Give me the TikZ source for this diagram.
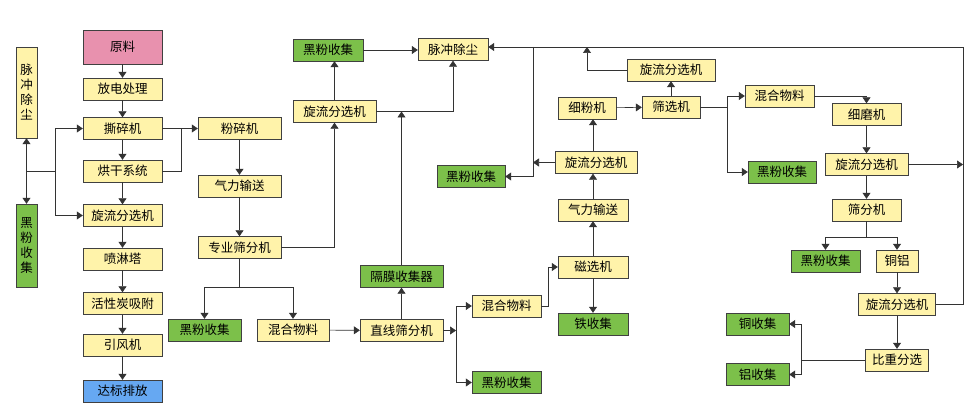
\documentclass[tikz,border=0pt]{standalone}
\usepackage{fontspec}
\setmainfont{Noto Sans CJK SC}
\usetikzlibrary{arrows.meta}
\definecolor{ybox}{HTML}{FFF3AA}
\definecolor{gbox}{HTML}{7CC04A}
\definecolor{pbox}{HTML}{E891AE}
\definecolor{bbox}{HTML}{66A8F2}

\begin{document}
\begin{tikzpicture}[x=1pt, y=-1pt, font=\fontsize{12.5}{15}\selectfont,
	every node/.style={draw=black!75, inner sep=1pt, minimum height=22},
	yel/.style={fill=ybox}, grn/.style={fill=gbox},
	>={Triangle[width=8pt,length=6pt]}, line/.style={draw=black!80, semithick}]
		\useasboundingbox[fill=white] (0,0) rectangle (976,409);

		% left column
		\node[fill=pbox, minimum width=79, minimum height=34] (yuanliao) at (122.5,47) {原料};
		\node[yel, minimum width=79] (fangdian) at (122.5,89) {放电处理};
		\node[yel, minimum width=79] (sisui) at (122.5,128.5) {撕碎机};
		\node[yel, minimum width=79] (honggan) at (122.5,171) {烘干系统};
		\node[yel, minimum width=79] (xuanliuA) at (122.5,215.5) {旋流分选机};
		\node[yel, minimum width=79] (penlin) at (122.5,259) {喷淋塔};
		\node[yel, minimum width=79] (huoxing) at (122.5,303.5) {活性炭吸附};
		\node[yel, minimum width=79] (yinfeng) at (122.5,345) {引风机};
		\node[fill=bbox, minimum width=79] (dabiao) at (122.5,391) {达标排放};
		\node[yel, minimum width=21, minimum height=91, align=center] (maichongA) at (26.5,92.5) {脉\\冲\\除\\尘};
		\node[grn, minimum width=21, minimum height=83, align=center] (heifenA) at (26.5,245.5) {黑\\粉\\收\\集};

		\draw[line, ->] (yuanliao) -- (fangdian);
		\draw[line, ->] (fangdian) -- (sisui);
		\draw[line, ->] (sisui) -- (honggan);
		\draw[line, ->] (honggan) -- (xuanliuA);
		\draw[line, ->] (xuanliuA) -- (penlin);
		\draw[line, ->] (penlin) -- (huoxing);
		\draw[line, ->] (huoxing) -- (yinfeng);
		\draw[line, ->] (yinfeng) -- (dabiao);

		\coordinate (jA) at (55,171);
		\draw[line, <->] (maichongA) -- (heifenA);
		\draw[line] (jA) -- (maichongA.south |- jA);
		\draw[line, ->] (jA) |- (sisui.west);
		\draw[line, ->] (jA) |- (xuanliuA.west);

		% second column
		\node[yel, minimum width=83] (fensui) at (239.5,128.5) {粉碎机};
		\node[yel, minimum width=83] (qiliA) at (239.5,186) {气力输送};
		\node[yel, minimum width=83] (zhuanye) at (239.5,247.5) {专业筛分机};
		\node[grn, minimum width=73] (heifenC) at (204.5,330) {黑粉收集};
		\node[yel, minimum width=72] (hunheA) at (293,330) {混合物料};

		\coordinate (jB) at (181,128.5);
		\draw[line, ->] (sisui) -- (fensui);
		\draw[line] (honggan.east) -| (jB);
		\draw[line, ->] (fensui) -- (qiliA);
		\draw[line, ->] (qiliA) -- (zhuanye);
		\coordinate (jC) at (239.5,287);
		\draw[line] (zhuanye) -- (jC);
		\draw[line, ->] (jC) -| (heifenC.north);
		\draw[line, ->] (jC) -| (hunheA.north);

		% third column
		\node[yel, minimum width=83] (xuanliuB) at (334.5,111.5) {旋流分选机};
		\node[grn, minimum width=70] (heifenB) at (328,50) {黑粉收集};
		\node[yel, minimum width=70] (maichongB) at (453,49.5) {脉冲除尘};
		\node[grn, minimum width=83] (gemo) at (401.5,276.5) {隔膜收集器};
		\node[yel, minimum width=83] (zhixian) at (401.5,330.5) {直线筛分机};

		\draw[line, ->] (zhuanye.east) -| (xuanliuB.south);
		\draw[line, ->] (xuanliuB.north) -- (xuanliuB.north |- heifenB.south);
		\draw[line, ->] (heifenB.east) -- (maichongB.west |- heifenB.east);
		\draw[line, ->] (xuanliuB.east) -| (maichongB.south);
		\draw[line, ->] (zhixian) -- (gemo);
		\draw[line, ->] (gemo.north) -- (gemo.north |- xuanliuB.east);
		\draw[line, ->] (hunheA) -- (zhixian);

		% fourth column
		\node[yel, minimum width=69] (hunheB) at (506.5,306) {混合物料};
		\node[grn, minimum width=69] (heifenD) at (506.5,382.5) {黑粉收集};
		\node[grn, minimum width=68] (heifenE) at (471,176.5) {黑粉收集};
		\node[yel, minimum width=70] (cixuan) at (593,267) {磁选机};
		\node[grn, minimum width=70] (tie) at (593,324) {铁收集};
		\node[yel, minimum width=70] (qiliB) at (593,210) {气力输送};
		\node[yel, minimum width=82] (xuanliuC) at (596,162.5) {旋流分选机};
		\node[yel, minimum width=58] (xifen) at (587,108) {细粉机};
		\node[yel, minimum width=58] (shaixuan) at (671,107) {筛选机};
		\node[yel, minimum width=88] (xuanliuD) at (671,70) {旋流分选机};

		\coordinate (jD) at (456,330.5);
		\draw[line, ->] (zhixian.east) -- (jD);
		\draw[line, ->] (jD) |- (hunheB.west);
		\draw[line, ->] (jD) |- (heifenD.west);
		\draw[line, ->] (hunheB.east) -- ++(7,0) |- (cixuan.west);
		\draw[line, ->] (cixuan) -- (tie);
		\draw[line, ->] (cixuan) -- (qiliB);
		\draw[line, ->] (qiliB.north) -- (qiliB.north |- xuanliuC.south);
		\draw[line, ->] (xuanliuC.north -| qiliB) -- (qiliB |- xifen.south);
		\draw[line, ->] (xifen) -- (shaixuan);
		\draw[line, ->] (shaixuan) -- (xuanliuD);

		\coordinate (tA) at (533,47);
		\coordinate (tB) at (587,47);
		\coordinate (tR) at (963,47);
		\draw[line, ->] (tA) |- (heifenE.east);
		\draw[line, ->] (xuanliuC.west) -- (xuanliuC.west -| tA);
		\draw[line, ->] (xuanliuD.west) -| (tB);

		% right column
		\node[yel, minimum width=69] (hunheC) at (779.5,96) {混合物料};
		\node[grn, minimum width=68] (heifenF) at (782,172) {黑粉收集};
		\node[yel, minimum width=69] (ximo) at (866.5,114.5) {细磨机};
		\node[yel, minimum width=83] (xuanliuE) at (866.5,164.5) {旋流分选机};
		\node[yel, minimum width=69] (shaifen) at (866.5,210) {筛分机};
		\node[grn, minimum width=69] (heifenG) at (825.5,261) {黑粉收集};
		\node[yel, minimum width=42] (tonglv) at (897,261) {铜铝};
		\node[yel, minimum width=77] (xuanliuF) at (897,304.5) {旋流分选机};
		\node[yel, minimum width=63] (bizhong) at (897,360) {比重分选};
		\node[grn, minimum width=63] (tong) at (757.5,324) {铜收集};
		\node[grn, minimum width=63] (lv) at (757.5,374.5) {铝收集};

		\coordinate (jE) at (727,107);
		\draw[line] (shaixuan.east) -- (jE);
		\draw[line, ->] (jE) |- (hunheC.west);
		\draw[line, ->] (jE) |- (heifenF.west);
		\draw[line, ->] (hunheC.east) -| (ximo.north);
		\draw[line, ->] (ximo) -- (xuanliuE);
		\draw[line, ->] (xuanliuE) -- (shaifen);
		\draw[line, ->] (xuanliuE.east) -- (xuanliuE.east -| tR);
		\coordinate (jF) at (866.5,237);
		\draw[line] (shaifen) -- (jF);
		\draw[line, ->] (jF) -| (heifenG.north);
		\draw[line, ->] (jF) -| (tonglv.north);
		\draw[line, ->] (tonglv) -- (xuanliuF);
		\draw[line, ->] (xuanliuF) -- (bizhong);
		\draw[line, ->] (xuanliuF.east) -| (tR) -- (maichongB.east |- tR);
		\coordinate (jG) at (801,360);
		\draw[line] (bizhong.west) -- (jG);
		\draw[line, ->] (jG) |- (tong.east);
		\draw[line, ->] (jG) |- (lv.east);
	\end{tikzpicture}
\end{document}
